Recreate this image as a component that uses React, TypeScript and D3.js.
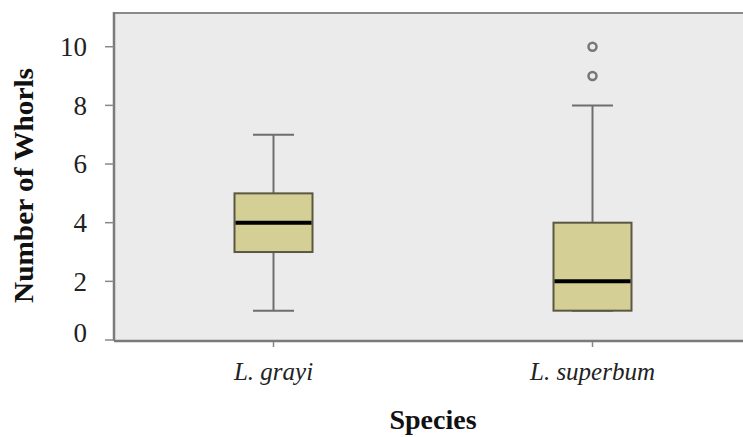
import React from "react";
import * as d3 from "d3";

const species = ["L. grayi", "L. superbum"];
const q1 = [3, 1];
const medians = [4, 2];
const q3 = [5, 4];
const whiskerLow = [1, 1];
const whiskerHigh = [7, 8];
const outliers: number[][] = [[], [9, 10]];
const yTicks = [0, 2, 4, 6, 8, 10];

const W = 743;
const H = 437;
const left = 114;
const top = 13;
const bottom = 340;
const right = 752;
const SERIF = "'Liberation Serif', 'Times New Roman', Times, serif";

export default function App() {
  const x = d3.scaleBand<string>().domain(species).range([left, right]).paddingInner(0).paddingOuter(0);
  const y = d3.scaleLinear().domain([0, 11.15]).range([bottom, top]);
  const boxW = 78;
  const capW = 41;
  return (
    <svg width={W} height={H} style={{ position: "absolute", left: 0, top: 0, background: "#fff" }}>
      <rect x={left} y={top} width={right - left} height={bottom - top} fill="#ebebeb" />
      <line x1={left} x2={right} y1={top} y2={top} stroke="#8a8a8a" strokeWidth={2} />
      <line x1={left} x2={left} y1={top - 1} y2={bottom + 1} stroke="#7a7a7a" strokeWidth={2.5} />
      <line x1={left} x2={right} y1={bottom + 1} y2={bottom + 1} stroke="#7a7a7a" strokeWidth={2.5} />
      {yTicks.map((t) => (
        <g key={t}>
          <line x1={105} x2={left} y1={y(t)} y2={y(t)} stroke="#888" strokeWidth={1.5} />
          <text x={87} y={Math.min(y(t), bottom - 7)} dy="0.35em" textAnchor="end" fontFamily={SERIF} fontSize={27} fill="#222">
            {t}
          </text>
        </g>
      ))}
      {species.map((s, i) => {
        const cx = (x(s) as number) + x.bandwidth() / 2;
        return (
          <g key={s}>
            <line x1={cx} x2={cx} y1={bottom + 2} y2={bottom + 7} stroke="#888" strokeWidth={1.5} />
            <text x={cx} y={380} textAnchor="middle" fontFamily={SERIF} fontStyle="italic" fontSize={25} fill="#222">
              {s}
            </text>
            <line x1={cx} x2={cx} y1={y(whiskerHigh[i])} y2={y(q3[i])} stroke="#6e6e6e" strokeWidth={2} />
            <line x1={cx} x2={cx} y1={y(q1[i])} y2={y(whiskerLow[i])} stroke="#6e6e6e" strokeWidth={2} />
            <line x1={cx - capW / 2} x2={cx + capW / 2} y1={y(whiskerHigh[i])} y2={y(whiskerHigh[i])} stroke="#6e6e6e" strokeWidth={2} />
            <line x1={cx - capW / 2} x2={cx + capW / 2} y1={y(whiskerLow[i])} y2={y(whiskerLow[i])} stroke="#6e6e6e" strokeWidth={2} />
            <rect x={cx - boxW / 2} y={y(q3[i])} width={boxW} height={y(q1[i]) - y(q3[i])} fill="#d3cf95" stroke="#5c5742" strokeWidth={2} />
            <line x1={cx - boxW / 2 + 1} x2={cx + boxW / 2 - 1} y1={y(medians[i])} y2={y(medians[i])} stroke="#000" strokeWidth={4} />
            {outliers[i].map((o) => (
              <circle key={o} cx={cx} cy={y(o)} r={4} fill="#ebebeb" stroke="#777" strokeWidth={2.5} />
            ))}
          </g>
        );
      })}
      <text x={433} y={429} textAnchor="middle" fontFamily={SERIF} fontWeight="bold" fontSize={28} fill="#111">
        Species
      </text>
      <text transform={`translate(33,185.5) rotate(-90)`} textAnchor="middle" fontFamily={SERIF} fontWeight="bold" fontSize={28} fill="#111" textLength={235} lengthAdjust="spacingAndGlyphs">
        Number of Whorls
      </text>
    </svg>
  );
}
